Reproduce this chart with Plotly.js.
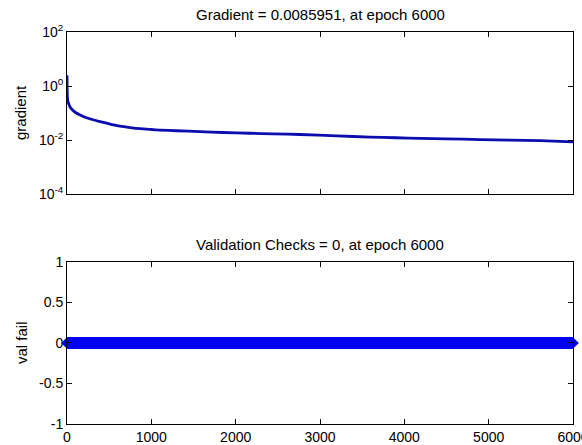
<!DOCTYPE html>
<html>
<head>
<meta charset="utf-8">
<script src="https://cdn.plot.ly/plotly-3.0.1.min.js"></script>
<style>html,body{margin:0;padding:0;background:#fff;}#chart{width:582px;height:445px;}</style>
</head>
<body>
<div id="chart"></div>
<script>
// Gradient per epoch
const gradEpochs = [0, 1, 2, 4, 7, 12, 20, 36, 55, 80, 110, 154, 200, 250, 320, 391, 470, 550, 628, 750, 866, 1000, 1100, 1300, 1577, 1850, 2170, 2450, 2763, 3200, 3593, 3900, 4186, 4500, 4897, 5250, 5609, 6000];
const gradValues = [2.5, 1.2, 0.7, 0.45, 0.32, 0.26, 0.22, 0.167, 0.14, 0.118, 0.1, 0.085, 0.073, 0.064, 0.055, 0.048, 0.042, 0.0365, 0.0325, 0.0288, 0.0262, 0.0245, 0.0234, 0.022, 0.0204, 0.019, 0.0178, 0.0168, 0.016, 0.0142, 0.0128, 0.0121, 0.0115, 0.011, 0.0104, 0.0099, 0.0095, 0.0085951];
// Validation checks (all zero from epoch 0 to 6000)
const valEpochs = [0, 6000];
const valFail = [0, 0];
// Tick labels
const xTicks = [0, 1000, 2000, 3000, 4000, 5000, 6000];
const gradTickVals = [1e-4, 1e-2, 1, 100];
const gradTickText = ['10<sup>-4</sup>', '10<sup>-2</sup>', '10<sup>0</sup>', '10<sup>2</sup>'];
const valTickVals = [-1, -0.5, 0, 0.5, 1];
const valTickText = ['-1', '-0.5', '0', '0.5', '1'];

const tickFont = {family: 'Liberation Sans, Arial, sans-serif', size: 14, color: '#000'};
const textFont = {family: 'Liberation Sans, Arial, sans-serif', size: 15, color: '#000'};

const traces = [
  {x: gradEpochs, y: gradValues, xaxis: 'x', yaxis: 'y', mode: 'lines',
   line: {color: 'rgb(12,12,175)', width: 2.8, shape: 'spline', smoothing: 0.6}, hoverinfo: 'skip'},
  {x: valEpochs, y: valFail, xaxis: 'x2', yaxis: 'y2', mode: 'lines+markers',
   line: {color: 'rgb(0,0,245)', width: 12},
   marker: {symbol: 'diamond', size: 9, color: 'rgb(0,0,245)'}, hoverinfo: 'skip', cliponaxis: false}
];

const axCommon = {showgrid: false, zeroline: false, showline: true, linecolor: '#000', linewidth: 1,
  mirror: 'ticks', ticks: 'inside', ticklen: 5, tickcolor: '#000', tickfont: tickFont, ticklabeloverflow: 'allow'};

const layout = {
  width: 582, height: 445,
  margin: {l: 67, r: 9, t: 32, b: 21},
  paper_bgcolor: '#fff', plot_bgcolor: '#fff',
  showlegend: false,
  font: tickFont,
  xaxis: Object.assign({}, axCommon, {domain: [0, 1], range: [0, 6000], tickvals: xTicks, showticklabels: false, anchor: 'y'}),
  yaxis: Object.assign({}, axCommon, {domain: [0.5867, 1], type: 'log', range: [-4, 2], tickvals: gradTickVals, ticktext: gradTickText, anchor: 'x'}),
  xaxis2: Object.assign({}, axCommon, {domain: [0, 1], range: [0, 6000], tickvals: xTicks, anchor: 'y2'}),
  yaxis2: Object.assign({}, axCommon, {domain: [0, 0.4133], range: [-1, 1], tickvals: valTickVals, ticktext: valTickText, anchor: 'x2'}),
  annotations: [
    {text: 'Gradient = 0.0085951, at epoch 6000', xref: 'paper', yref: 'paper', x: 0.5, y: 1, yshift: 7,
     xanchor: 'center', yanchor: 'bottom', showarrow: false, font: textFont},
    {text: 'Validation Checks = 0, at epoch 6000', xref: 'paper', yref: 'paper', x: 0.5, y: 0.4133, yshift: 7,
     xanchor: 'center', yanchor: 'bottom', showarrow: false, font: textFont},
    {text: 'gradient', xref: 'paper', yref: 'paper', x: -0.0909, y: 0.7934, xanchor: 'center', yanchor: 'middle',
     textangle: -90, showarrow: false, font: textFont},
    {text: 'val fail', xref: 'paper', yref: 'paper', x: -0.0909, y: 0.2066, xanchor: 'center', yanchor: 'middle',
     textangle: -90, showarrow: false, font: textFont}
  ]
};

Plotly.newPlot('chart', traces, layout, {displayModeBar: false, staticPlot: true});
</script>
</body>
</html>
